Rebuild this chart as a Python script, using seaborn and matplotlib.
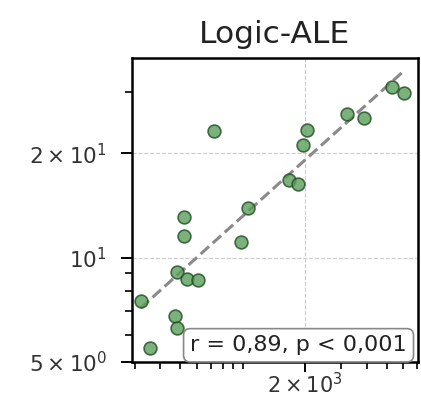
import numpy as np
import pandas as pd
import matplotlib
matplotlib.use("Agg")
import matplotlib.pyplot as plt
import seaborn as sns
from matplotlib.ticker import FixedLocator, FixedFormatter, NullFormatter

# Data
title = "Logic-ALE"
x_values = [320, 357, 471, 482, 482, 519, 519, 538, 607, 726,
            984, 1061, 1672, 1855, 1963, 2060, 3220, 3880, 5305, 6070]
y_values = [7.48, 5.47, 6.80, 6.26, 9.07, 13.08, 11.50, 8.68, 8.64, 23.17,
            11.12, 13.92, 16.69, 16.26, 21.08, 23.28, 25.85, 25.33, 31.07, 29.72]
stat_label = "r = 0,89, p < 0,001"

x_major_ticks = [2000]
x_major_labels = [r"$2\times10^{3}$"]
x_minor_ticks = [300, 400, 500, 600, 700, 800, 900, 1000,
                 3000, 4000, 5000, 6000, 7000]
y_major_ticks = [5, 10, 20]
y_major_labels = [r"$5\times10^{0}$", r"$10^{1}$", r"$2\times10^{1}$"]
y_minor_ticks = [6, 7, 8, 9, 30]

df = pd.DataFrame({"x": x_values, "y": y_values})

sns.set_style("ticks")
plt.rcParams["font.family"] = ["DejaVu Sans"]

fig = plt.figure(figsize=(4.21, 3.98), dpi=100)
ax = fig.add_axes([0.3128, 0.0905, 0.6794, 0.7638])
ax.set_xscale("log")
ax.set_yscale("log")

# Linear fit in log-log space
lx = np.log10(df["x"].to_numpy())
ly = np.log10(df["y"].to_numpy())
slope, intercept = np.polyfit(lx, ly, 1)
fit_x = np.geomspace(df["x"].min(), df["x"].max(), 50)
fit_y = 10 ** (intercept + slope * np.log10(fit_x))
sns.lineplot(x=fit_x, y=fit_y, ax=ax, color="#8a8a8a", linestyle="--",
             linewidth=2.2, zorder=2)

sns.scatterplot(data=df, x="x", y="y", ax=ax, s=85, color="#5a9e5a",
                edgecolor="#234d23", linewidth=1.2, alpha=0.8, zorder=3)

ax.set_xlim(290, 7080)
ax.set_ylim(5, 37.6)

ax.xaxis.set_major_locator(FixedLocator(x_major_ticks))
ax.xaxis.set_major_formatter(FixedFormatter(x_major_labels))
ax.xaxis.set_minor_locator(FixedLocator(x_minor_ticks))
ax.xaxis.set_minor_formatter(NullFormatter())
ax.yaxis.set_major_locator(FixedLocator(y_major_ticks))
ax.yaxis.set_major_formatter(FixedFormatter(y_major_labels))
ax.yaxis.set_minor_locator(FixedLocator(y_minor_ticks))
ax.yaxis.set_minor_formatter(NullFormatter())

ax.tick_params(which="major", length=8.0, width=1.4, labelsize=15.5,
               color="black", labelcolor="#333333")
ax.tick_params(axis="x", which="major", length=7.0, pad=0.5, labelsize=15)
ax.tick_params(axis="y", which="major", pad=10.0)
ax.tick_params(which="minor", length=4.8, width=1.2, color="black")

for sp in ax.spines.values():
    sp.set_linewidth(1.8)
    sp.set_color("black")

ax.grid(True, which="major", color="#cccccc", linestyle="--", linewidth=0.8)
ax.set_axisbelow(True)

ax.set_xlabel("")
ax.set_ylabel("")
ax.set_title(title, fontsize=22.5, pad=10.5, color="#222222")

ax.text(0.962, 0.022, stat_label, transform=ax.transAxes, ha="right",
        va="bottom", fontsize=16, color="#222222", zorder=5,
        bbox=dict(boxstyle="round,pad=0.3", facecolor="white",
                  edgecolor="#888888", linewidth=1.2))

fig.savefig("out.png", dpi=100)
